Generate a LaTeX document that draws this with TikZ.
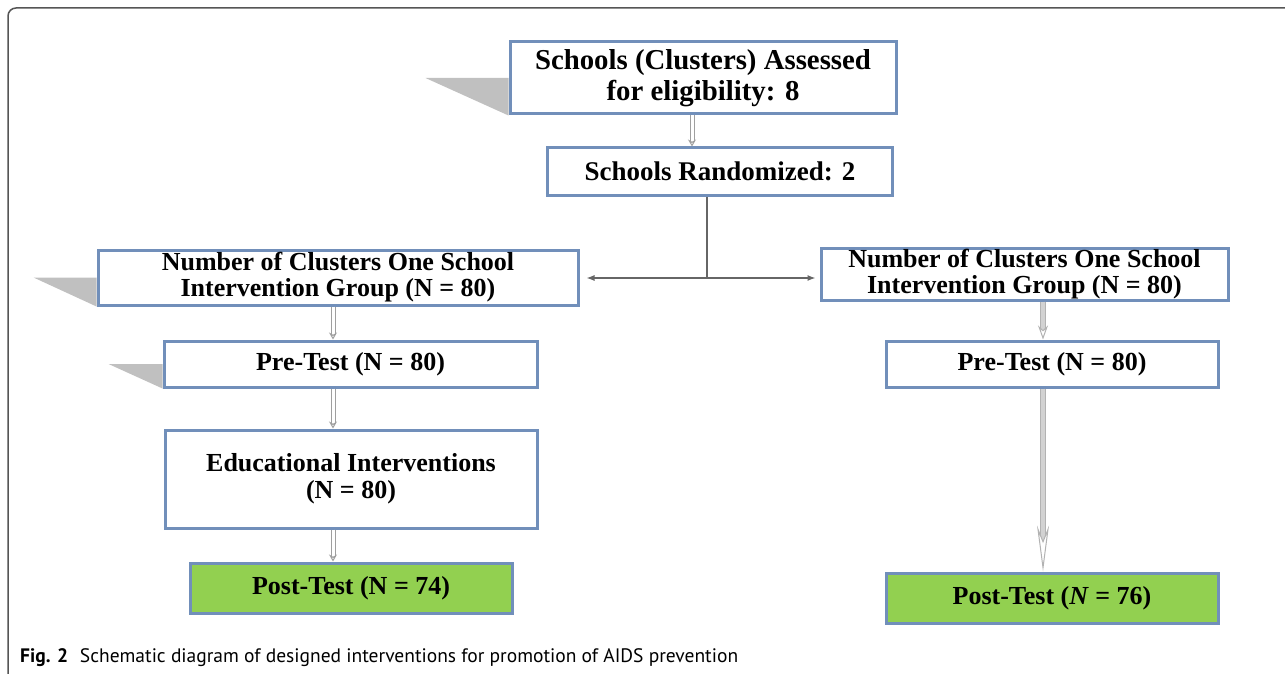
\documentclass[tikz,border=0pt]{standalone}
\usepackage{fontspec}
\setmainfont{Liberation Serif}
\newfontfamily\capfont{PT Sans}
\usetikzlibrary{arrows.meta}

\definecolor{boxblue}{RGB}{113,143,186}
\definecolor{postgreen}{RGB}{146,208,80}
\definecolor{wedgegray}{RGB}{192,192,192}
\definecolor{framegray}{RGB}{85,85,85}

\tikzset{
  flowbox/.style={draw=boxblue, line width=3pt, fill=white, inner sep=0pt,
    align=center, font=\bfseries\fontsize{26}{26}\selectfont},
  postbox/.style={flowbox, fill=postgreen},
  wedge/.style={fill=wedgegray},
  hollowarrow/.style={draw=gray!75, double=white, double distance=3pt,
    line width=1pt, -{Stealth[open, length=7pt, width=8pt]}},
  thickarrow/.style={draw=gray!60, double=gray!35, double distance=4pt,
    line width=1pt, -{Stealth[fill=white, length=14pt, width=10pt]}},
  splitline/.style={draw=gray!80!black, line width=1.2pt},
}

\begin{document}
\begin{tikzpicture}[x=1pt, y=-1pt]
  \useasboundingbox (0,0) rectangle (1285,674);
  \draw[framegray, line width=1.5pt, rounded corners=8pt] (1285,8) -- (8,8) -- (8,674);

  \node[flowbox, minimum width=386pt, minimum height=72pt,
    font=\bfseries\fontsize{28.8}{31}\selectfont] (assess) at (703,78)
    {Schools (Clusters) Assessed\\for eligibility: 8};
  \node[flowbox, minimum width=345pt, minimum height=47pt,
    font=\bfseries\fontsize{27}{30}\selectfont] (rand) at (720,171.5)
    {Schools Randomized: 2};

  \node[flowbox, minimum width=480pt, minimum height=55pt] (lgrp) at (338,277.5)
    {Number of Clusters One School\\Intervention Group (N = 80)};
  \node[flowbox, minimum width=407pt, minimum height=52pt] (rgrp) at (1024.5,274)
    {Number of Clusters One School\\Intervention Group (N = 80)};

  \node[flowbox, minimum width=373pt, minimum height=46pt] (lpre) at (350.5,364)
    {Pre-Test (N = 80)};
  \node[flowbox, minimum width=332pt, minimum height=46pt] (rpre) at (1052,364)
    {Pre-Test (N = 80)};

  \node[flowbox, minimum width=372pt, minimum height=98pt,
    font=\bfseries\fontsize{26}{27}\selectfont] (edu) at (351,479)
    {Educational Interventions\\(N = 80)};

  \node[postbox, minimum width=322pt, minimum height=50pt] (lpost) at (351,588)
    {Post-Test (N = 74)};
  \node[postbox, minimum width=332pt, minimum height=50pt] (rpost) at (1052,598)
    {Post-Test (\textit{N} = 76)};

  % grey wedges on the left of some boxes
  \fill[wedge] (assess.west) -- ++(-83,0) -- (assess.south west) -- cycle;
  \fill[wedge] (lgrp.west) -- ++(-63,0) -- (lgrp.south west) -- cycle;
  \fill[wedge] (lpre.west) -- ++(-54,0) -- (lpre.south west) -- cycle;

  \coordinate (topcol) at (692,0);
  \coordinate (lcol) at (333,0);
  \coordinate (rcol) at (1043,0);
  \coordinate (split) at (707,278);

  \draw[hollowarrow] (assess.south -| topcol) -- (rand.north -| topcol);

  \draw[splitline] (rand.south -| split) -- (split);
  \draw[splitline, -{Latex[length=8pt, width=6pt]}, shorten >=7pt] (split) -- (lgrp.east |- split);
  \draw[splitline, -{Latex[length=8pt, width=6pt]}, shorten >=4pt] (split) -- (rgrp.west |- split);

  \foreach \a/\b in {lgrp/lpre, lpre/edu, edu/lpost}
    \draw[hollowarrow] (\a.south -| lcol) -- (\b.north -| lcol);

  \draw[thickarrow] (rgrp.south -| rcol) -- (rpre.north -| rcol);
  \draw[thickarrow, -{Stealth[fill=white, length=46pt, width=12pt]}] (rpre.south -| rcol) -- (rpost.north -| rcol);

  \node[anchor=base west, font=\capfont\fontsize{19.5}{22}\selectfont, inner sep=0pt] (cap) at (20,662)
    {\textbf{Fig. 2}\hspace{0.6em}Schematic diagram of designed interventions for promotion of AIDS prevention};
\end{tikzpicture}
\end{document}
